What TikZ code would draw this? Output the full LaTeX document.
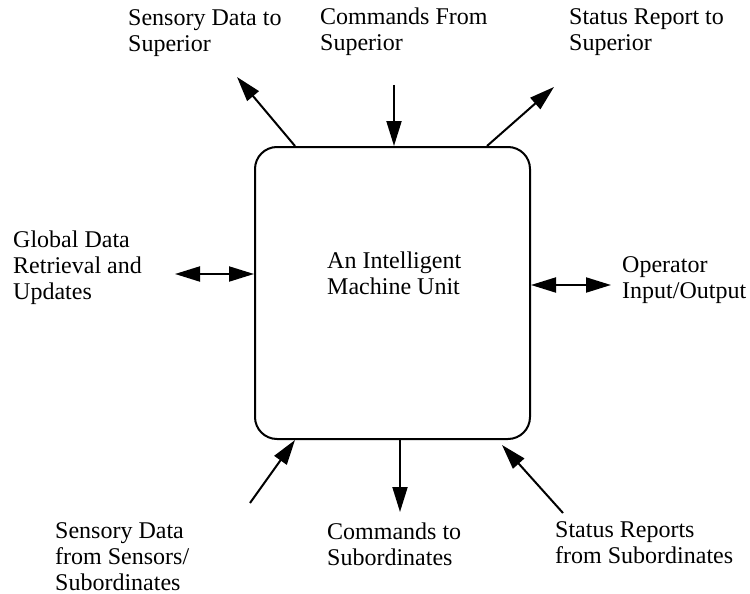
\documentclass[tikz,border=0pt]{standalone}
\usepackage{fontspec}
\setmainfont{Liberation Serif}
\usetikzlibrary{arrows.meta}
\begin{document}
\begin{tikzpicture}[x=1pt,y=-1pt,
  unitbox/.style={draw,line width=2pt,rounded corners=22pt,minimum width=275pt,minimum height=292pt,inner sep=0pt},
  lbl/.style={align=left,anchor=base west,inner sep=0pt,font=\fontsize{24}{26}\selectfont},
  tip/.style={Triangle[length=25pt,width=15pt]},
  flow/.style={line width=2pt,-{Triangle[length=25pt,width=15pt]}},
  bothflow/.style={line width=2pt,{Triangle[length=25pt,width=15pt]}-{Triangle[length=25pt,width=15pt]}}]
\useasboundingbox (0,0) rectangle (750,594);

% the unit itself
\node[unitbox] (unit) at (392.5,293) {};
% (multi-line labels are anchored at the baseline of their last line)
\node[lbl] (unitlbl) at (327,294) {An Intelligent\\Machine Unit};

% outer ends of the flows
\coordinate (sdsTip) at (237,77);
\coordinate (sdsFoot) at (295,147);
\coordinate (cfsTail) at (394,85);
\coordinate (srsFoot) at (487,147);
\coordinate (srsTip) at (554,87);
\coordinate (gdEnd) at (175,274);
\coordinate (opEnd) at (611,285);
\coordinate (sfsTail) at (250,503);
\coordinate (sfsTip) at (295,439);
\coordinate (ctsTip) at (400,512);
\coordinate (srfsTail) at (563,513);
\coordinate (srfsTip) at (502,445);

% flows to and from the unit
\draw[flow] (unit.north -| sdsFoot) -- (sdsTip);
\draw[flow] (cfsTail) -- (unit.north -| cfsTail);
\draw[flow] (unit.north -| srsFoot) -- (srsTip);
\draw[bothflow] (gdEnd) -- (unit.west |- gdEnd);
\draw[bothflow] (unit.east |- opEnd) -- (opEnd);
\draw[flow] (sfsTail) -- (unit.south -| sfsTip);
\draw[flow] (unit.south -| ctsTip) -- (ctsTip);
\draw[flow] (srfsTail) -- (srfsTip);

% labels
\node[lbl] (sdsLbl) at (128,52) {Sensory Data to\\Superior};
\node[lbl] (cfsLbl) at (320,51) {Commands From\\Superior};
\node[lbl] (srsLbl) at (569,51) {Status Report to\\Superior};
\node[lbl] (gdLbl) at (13,299) {Global Data\\Retrieval and\\Updates};
\node[lbl] (opLbl) at (622,298) {Operator\\Input/Output};
\node[lbl] (sfsLbl) at (55,590) {Sensory Data\\from Sensors/\\Subordinates};
\node[lbl] (ctsLbl) at (327,565) {Commands to\\Subordinates};
\node[lbl] (srfsLbl) at (555,563) {Status Reports\\from Subordinates};
\end{tikzpicture}
\end{document}
